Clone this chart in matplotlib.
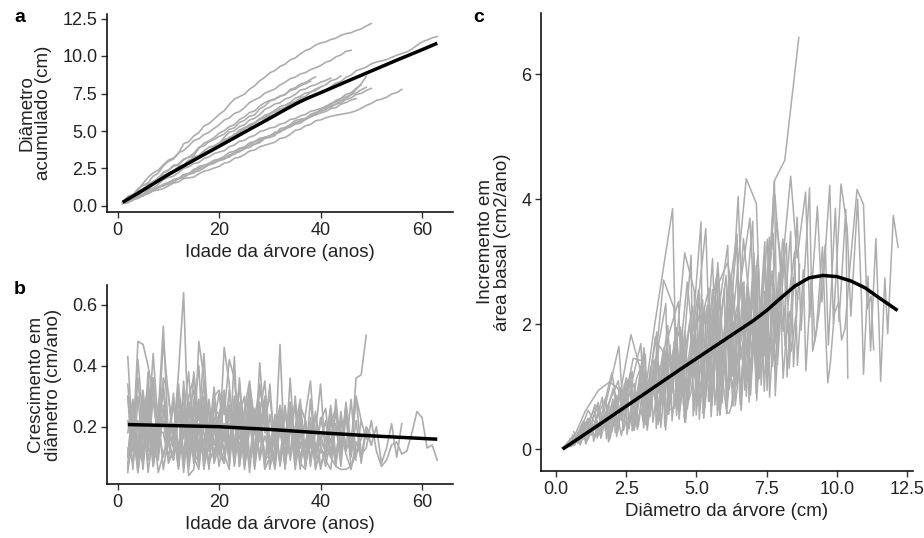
import numpy as np
import matplotlib.pyplot as plt

# diameter at age 1 (cm) for each tree
start_diam = [0.25, 0.20, 0.30, 0.20, 0.25, 0.20, 0.20, 0.20, 0.15, 0.25, 0.20, 0.20, 0.20, 0.20]

# yearly diameter increments (cm/ano), from age 2 onwards
inc_t01 = [0.34, 0.14, 0.42, 0.22, 0.18, 0.44, 0.20, 0.48, 0.30, 0.16, 0.38, 0.64,
           0.14, 0.38, 0.22, 0.44, 0.16, 0.30, 0.32,
           0.24, 0.42, 0.36, 0.16, 0.16, 0.34, 0.22, 0.34, 0.23, 0.30,
           0.15, 0.27, 0.16, 0.28, 0.13, 0.27, 0.22, 0.13, 0.24, 0.14,
           0.07, 0.16, 0.09, 0.19, 0.11, 0.06, 0.15, 0.10, 0.20, 0.17]
inc_t02 = [0.22, 0.14, 0.48, 0.47, 0.40, 0.30, 0.18, 0.36, 0.31,
           0.14, 0.34, 0.16, 0.30, 0.36, 0.12, 0.28, 0.15, 0.26, 0.24,
           0.32, 0.14, 0.30, 0.12, 0.26, 0.35, 0.18, 0.15, 0.29, 0.14,
           0.14, 0.27, 0.18, 0.24, 0.10, 0.21, 0.09, 0.20, 0.12, 0.15,
           0.22, 0.11, 0.25, 0.13, 0.24, 0.07]
inc_t03 = [0.10, 0.28, 0.14, 0.32, 0.12, 0.29, 0.15, 0.33, 0.18,
           0.13, 0.31, 0.10, 0.28, 0.22, 0.12, 0.30, 0.25, 0.09, 0.20,
           0.11, 0.27, 0.09, 0.24, 0.30, 0.10, 0.19, 0.26, 0.07, 0.17,
           0.08, 0.25, 0.10, 0.22, 0.14, 0.27, 0.07, 0.20, 0.12, 0.15,
           0.12, 0.21, 0.26, 0.10, 0.28, 0.14, 0.30, 0.11, 0.13,
           0.22, 0.12, 0.07, 0.09, 0.14, 0.15, 0.11, 0.12, 0.18, 0.25, 0.23, 0.13, 0.14, 0.09]
inc_t04 = [0.30, 0.12, 0.36, 0.16, 0.33, 0.14, 0.27, 0.34, 0.14,
           0.28, 0.12, 0.32, 0.17, 0.10, 0.48, 0.36, 0.15, 0.21, 0.31,
           0.16, 0.27, 0.13, 0.34, 0.18, 0.29, 0.11, 0.33, 0.22, 0.15,
           0.10, 0.19, 0.08, 0.36, 0.11, 0.25, 0.09, 0.21, 0.18]
inc_t05 = [0.10, 0.26, 0.08, 0.31, 0.14, 0.36, 0.11, 0.25, 0.15,
           0.29, 0.10, 0.24, 0.38, 0.12, 0.08, 0.27, 0.16, 0.33, 0.14,
           0.46, 0.34, 0.09, 0.28, 0.13, 0.31, 0.12, 0.24, 0.35, 0.14,
           0.22, 0.08, 0.26, 0.10, 0.20, 0.29, 0.07, 0.19, 0.09, 0.17, 0.12, 0.16]
inc_t06 = [0.10, 0.26, 0.14, 0.08, 0.30, 0.12, 0.24, 0.32, 0.14,
           0.09, 0.24, 0.28, 0.10, 0.22, 0.07, 0.26, 0.12, 0.21, 0.11,
           0.08, 0.27, 0.12, 0.24, 0.07, 0.22, 0.10, 0.26, 0.09, 0.15,
           0.06, 0.20, 0.08, 0.23, 0.06, 0.18, 0.09, 0.21, 0.07, 0.12,
           0.10, 0.24, 0.08, 0.22, 0.14, 0.13, 0.36, 0.37, 0.50]
inc_t07 = [0.08, 0.22, 0.05, 0.18, 0.27, 0.07, 0.20, 0.10, 0.18,
           0.21, 0.08, 0.26, 0.06, 0.19, 0.29, 0.07, 0.14, 0.20, 0.07,
           0.19, 0.26, 0.07, 0.21, 0.09, 0.27, 0.08, 0.23, 0.06, 0.10,
           0.12, 0.24, 0.06, 0.28, 0.09, 0.22, 0.07, 0.16, 0.18, 0.34,
           0.09, 0.06, 0.21, 0.07, 0.24, 0.10, 0.22, 0.08, 0.19, 0.14]
inc_t08 = [0.06, 0.19, 0.05, 0.22, 0.09, 0.20, 0.05, 0.11, 0.17,
           0.19, 0.07, 0.23, 0.04, 0.06, 0.21, 0.18, 0.08, 0.13, 0.11,
           0.21, 0.08, 0.25, 0.07, 0.18, 0.24, 0.06, 0.22, 0.10, 0.10,
           0.11, 0.24, 0.07, 0.20, 0.27, 0.08, 0.22, 0.09, 0.25, 0.06,
           0.14, 0.10, 0.07, 0.06, 0.06, 0.07, 0.11, 0.16, 0.19, 0.14,
           0.20, 0.08, 0.13, 0.21, 0.10, 0.21]
inc_t09 = [0.07, 0.16, 0.22, 0.06, 0.25, 0.10, 0.19, 0.18, 0.09,
           0.12, 0.24, 0.07, 0.27, 0.10, 0.06, 0.22, 0.25, 0.08, 0.14,
           0.09, 0.26, 0.08, 0.22, 0.12, 0.27, 0.07, 0.18, 0.24, 0.06,
           0.22, 0.08, 0.27, 0.09, 0.19, 0.06, 0.24, 0.35, 0.12, 0.07,
           0.13, 0.26, 0.08, 0.25, 0.12, 0.29, 0.10, 0.22, 0.16]
inc_t10 = [0.30, 0.06, 0.30, 0.10, 0.38, 0.08, 0.24, 0.53, 0.16,
           0.31, 0.07, 0.35, 0.13, 0.25, 0.40, 0.09, 0.29, 0.14, 0.21,
           0.15, 0.32, 0.10, 0.36, 0.14, 0.28, 0.08, 0.41, 0.18, 0.34,
           0.11, 0.20, 0.14, 0.24, 0.10, 0.23, 0.13, 0.17]
inc_t11 = [0.05, 0.22, 0.08, 0.26, 0.05, 0.18, 0.24, 0.06, 0.16,
           0.09, 0.25, 0.05, 0.22, 0.08, 0.28, 0.06, 0.21, 0.10, 0.24,
           0.11, 0.06, 0.27, 0.09, 0.24, 0.05, 0.22, 0.10, 0.28, 0.07,
           0.12, 0.47, 0.07, 0.20, 0.27, 0.08, 0.06, 0.23, 0.10, 0.22,
           0.26, 0.10, 0.29, 0.13, 0.27, 0.11, 0.30, 0.22]
inc_t12 = [0.43, 0.14, 0.10, 0.30, 0.12, 0.36, 0.11, 0.27, 0.08,
           0.12, 0.29, 0.08, 0.26, 0.32, 0.09, 0.24, 0.06, 0.28, 0.13,
           0.30, 0.10, 0.43, 0.07, 0.25, 0.31, 0.11, 0.28, 0.08, 0.24,
           0.12, 0.21, 0.08, 0.25, 0.14, 0.26, 0.09, 0.29, 0.11, 0.23, 0.15, 0.27, 0.10, 0.22]
inc_t13 = [0.13, 0.08, 0.21, 0.12, 0.26, 0.07, 0.17, 0.22, 0.10,
           0.18, 0.06, 0.24, 0.11, 0.29, 0.09, 0.16, 0.07, 0.23, 0.12,
           0.08, 0.21, 0.14, 0.27, 0.06, 0.19, 0.25, 0.09, 0.17, 0.11,
           0.24, 0.07, 0.18, 0.10, 0.30, 0.08, 0.15, 0.21, 0.06, 0.13,
           0.10, 0.19, 0.07, 0.22, 0.12, 0.17, 0.09]
inc_t14 = [0.18, 0.29, 0.11, 0.24, 0.33, 0.15, 0.09, 0.26, 0.20,
           0.14, 0.31, 0.22, 0.08, 0.27, 0.17, 0.35, 0.12, 0.19, 0.24,
           0.29, 0.10, 0.21, 0.33, 0.15, 0.08, 0.26, 0.19, 0.30, 0.12,
           0.20, 0.26, 0.09, 0.18, 0.28, 0.13, 0.22, 0.07, 0.19, 0.15]

trees = [inc_t01, inc_t02, inc_t03, inc_t04, inc_t05, inc_t06, inc_t07,
         inc_t08, inc_t09, inc_t10, inc_t11, inc_t12, inc_t13, inc_t14]

# fitted (smooth) curves
fit_age_a = [1, 5, 10, 15, 20, 25, 30, 33, 35, 36, 37, 38, 39, 40, 45, 50, 55, 60, 63]
fit_diam_a = [0.25, 1.05, 2.10, 3.05, 3.98, 4.92, 5.85, 6.42, 6.79, 6.96, 7.12,
              7.27, 7.41, 7.55, 8.28, 9.00, 9.72, 10.42, 10.85]
fit_age_b = [2, 10, 20, 30, 40, 50, 63]
fit_inc_b = [0.207, 0.204, 0.200, 0.191, 0.180, 0.170, 0.159]
fit_diam_c = [0.24, 1.5, 3.0, 4.5, 6.0, 7.0, 7.5, 8.0, 8.5, 9.0, 9.5, 10.0, 10.5, 11.0, 11.5, 12.15]
fit_bai_c = [0.0, 0.38, 0.84, 1.30, 1.75, 2.05, 2.22, 2.42, 2.61, 2.74, 2.78, 2.76, 2.69, 2.58, 2.42, 2.22]

plt.rcParams['font.family'] = ['Liberation Sans', 'DejaVu Sans']
GREY = '#adadad'
TXT = '#222222'

fig = plt.figure(figsize=(9.24, 5.38), dpi=100)
W, H = 924.0, 538.0


def add_ax(l, t, r, b):
    return fig.add_axes([l / W, 1 - b / H, (r - l) / W, (b - t) / H])


def style(ax):
    for s in ['top', 'right']:
        ax.spines[s].set_visible(False)
    for s in ['left', 'bottom']:
        ax.spines[s].set_linewidth(1.1)
        ax.spines[s].set_color('black')
    ax.tick_params(direction='out', length=4, width=1, color='#333333',
                   labelsize=13, labelcolor=TXT, pad=3)


ax_a = add_ax(107, 14, 453, 212)
ax_b = add_ax(107, 285, 453, 484)
ax_c = add_ax(541, 13, 913, 471)

for d1, inc in zip(start_diam, trees):
    inc = np.array(inc)
    ages = np.arange(1, len(inc) + 2)
    diam = d1 + np.concatenate([[0], np.cumsum(inc)])
    bai = np.pi / 4 * (diam[1:] ** 2 - diam[:-1] ** 2)
    ax_a.plot(ages, diam, color=GREY, lw=1.2)
    ax_b.plot(ages[1:], inc, color=GREY, lw=1.2)
    ax_c.plot(diam[1:], bai, color=GREY, lw=1.1)

ax_a.plot(fit_age_a, fit_diam_a, color='black', lw=2.5, solid_capstyle='butt')
ax_b.plot(fit_age_b, fit_inc_b, color='black', lw=2.5, solid_capstyle='butt')
ax_c.plot(fit_diam_c, fit_bai_c, color='black', lw=2.5, solid_capstyle='butt')

ax_a.set_xlim(-2.1, 66.1)
ax_a.set_ylim(-0.4, 12.8)
ax_a.set_xticks([0, 20, 40, 60])
ax_a.set_yticks([0, 2.5, 5, 7.5, 10, 12.5])
ax_a.set_yticklabels(['0.0', '2.5', '5.0', '7.5', '10.0', '12.5'])
ax_a.set_xlabel('Idade da árvore (anos)', fontsize=13.5, color=TXT, labelpad=4)
ax_a.set_ylabel('Diâmetro\nacumulado (cm)', fontsize=13.5, color=TXT, labelpad=7, linespacing=1.0)

ax_b.set_xlim(-2.1, 66.1)
ax_b.set_ylim(0.012, 0.665)
ax_b.set_xticks([0, 20, 40, 60])
ax_b.set_yticks([0.2, 0.4, 0.6])
ax_b.set_yticklabels(['0.2', '0.4', '0.6'])
ax_b.set_xlabel('Idade da árvore (anos)', fontsize=13.5, color=TXT, labelpad=4)
ax_b.set_ylabel('Crescimento em\ndiâmetro (cm/ano)', fontsize=13.5, color=TXT, labelpad=7, linespacing=1.0)

ax_c.set_xlim(-0.53, 12.7)
ax_c.set_ylim(-0.35, 6.98)
ax_c.set_xticks([0, 2.5, 5, 7.5, 10, 12.5])
ax_c.set_xticklabels(['0.0', '2.5', '5.0', '7.5', '10.0', '12.5'])
ax_c.set_yticks([0, 2, 4, 6])
ax_c.set_xlabel('Diâmetro da árvore (cm)', fontsize=13.5, color=TXT, labelpad=4)
ax_c.set_ylabel('Incremento em\nárea basal (cm2/ano)', fontsize=13.5, color=TXT, labelpad=7, linespacing=1.0)

for ax in [ax_a, ax_b, ax_c]:
    style(ax)

fig.text(14 / W, 1 - 18 / H, 'a', fontsize=14, fontweight='bold', va='center', ha='left')
fig.text(14 / W, 1 - 290 / H, 'b', fontsize=14, fontweight='bold', va='center', ha='left')
fig.text(473 / W, 1 - 18 / H, 'c', fontsize=14, fontweight='bold', va='center', ha='left')

fig.savefig('out.png', dpi=100)
